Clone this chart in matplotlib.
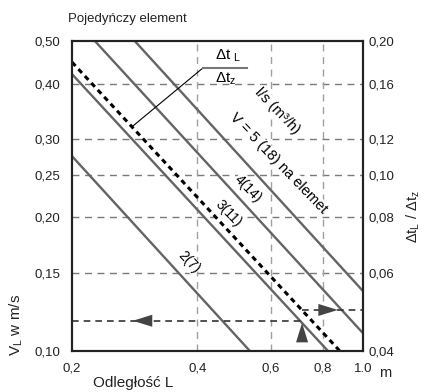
import numpy as np
import matplotlib
matplotlib.use('Agg')
import matplotlib.pyplot as plt
from matplotlib.ticker import FixedLocator, NullLocator, FixedFormatter

plt.rcParams['font.family'] = ['Liberation Sans', 'DejaVu Sans']
plt.rcParams['mathtext.fontset'] = 'custom'
plt.rcParams['mathtext.rm'] = 'Liberation Sans'
plt.rcParams['mathtext.it'] = 'Liberation Sans:italic'

# osie
x_ticks = [0.2, 0.4, 0.6, 0.8, 1.0]
x_labels = ['0,2', '0,4', '0,6', '0,8', '1.0']
y_ticks = [0.10, 0.15, 0.20, 0.25, 0.30, 0.40, 0.50]
y_labels = ['0,10', '0,15', '0,20', '0,25', '0,30', '0,40', '0,50']
y2_ticks = [0.04, 0.06, 0.08, 0.10, 0.12, 0.16, 0.20]
y2_labels = ['0,04', '0,06', '0,08', '0,10', '0,12', '0,16', '0,20']
grid_h = [0.15, 0.20, 0.25, 0.30, 0.40]
grid_v = [0.4, 0.6, 0.8]

# linie wydatku (L, V) - punkty koncowe
line_names = ['2(7)', '3(11)', '4(14)', '5(18)']
line_L = [[0.2, 0.535], [0.2, 0.824], [0.227, 1.0], [0.283, 1.0]]
line_V = [[0.275, 0.10], [0.421, 0.10], [0.50, 0.1097], [0.50, 0.1365]]

# linia kropkowana dt_L/dt_z
dot_L = [0.2, 0.88]
dot_V = [0.448, 0.10]

# przyklad odczytu
ex_L = 0.714
ex_V = 0.117      # predkosc V_L
ex_dt = 0.0495    # dt_L / dt_z (prawa os)

fig = plt.figure(figsize=(4.29, 3.92), dpi=100)
ax = fig.add_axes([0.1678, 0.1046, 0.6783, 0.7908])
ax.set_xscale('log')
ax.set_yscale('log')
ax.set_xlim(0.2, 1.0)
ax.set_ylim(0.1, 0.5)

for g in grid_h:
    ax.axhline(g, color='#7a7a7a', lw=1.0, dashes=(5, 4), zorder=1)
for g in grid_v:
    ax.axvline(g, color='#a0a0a0', lw=1.0, dashes=(5, 4), zorder=1)

for L, V in zip(line_L, line_V):
    ax.plot(L, V, color='#646464', lw=1.7, solid_capstyle='butt', zorder=3)
ax.plot(dot_L, dot_V, color='black', lw=2.2, dashes=(1.7, 1.4), zorder=4)

# linie odczytu
ax.plot([0.2, ex_L], [ex_V, ex_V], color='#333333', lw=1.2, dashes=(4, 3), zorder=5)
ax.plot([ex_L, 1.0], [ex_dt / 0.4, ex_dt / 0.4], color='#333333', lw=1.2, dashes=(4, 3), zorder=5)
arr = dict(arrowstyle='-|>,head_length=2.0,head_width=0.62', fc='#444444', ec='#444444',
           lw=0, mutation_scale=7, shrinkA=0, shrinkB=0)
ax.annotate('', xy=(0.280, ex_V), xytext=(0.313, ex_V), arrowprops=arr, zorder=6)
ax.annotate('', xy=(0.87, ex_dt / 0.4), xytext=(0.776, ex_dt / 0.4), arrowprops=arr, zorder=6)
ax.annotate('', xy=(ex_L, 0.1157), xytext=(ex_L, 0.1021), arrowprops=arr, zorder=6)

# opis linii
box = dict(fc='white', ec='none', pad=0.3)
ax.text(0.704, 0.774, 'l/s (m³/h)', transform=ax.transAxes, rotation=-46, fontsize=10.5,
        ha='center', va='center', rotation_mode='anchor', bbox=box, zorder=7)
ax.text(0.708, 0.606, 'V = 5 (18) na elemet', transform=ax.transAxes, rotation=-46, fontsize=10.5,
        ha='center', va='center', rotation_mode='anchor', bbox=box, zorder=7)
ax.text(0.605, 0.523, line_names[2], transform=ax.transAxes, rotation=-46, fontsize=10,
        ha='center', va='center', rotation_mode='anchor', bbox=box, zorder=7)
ax.text(0.536, 0.445, line_names[1], transform=ax.transAxes, rotation=-46, fontsize=10,
        ha='center', va='center', rotation_mode='anchor', bbox=box, zorder=7)
ax.text(0.402, 0.287, line_names[0], transform=ax.transAxes, rotation=-46, fontsize=10,
        ha='center', va='center', rotation_mode='anchor', bbox=box, zorder=7)

# odnosnik dt_L / dt_z
ax.plot([0.2096, 0.450], [0.726, 0.913], transform=ax.transAxes, color='black', lw=0.8, zorder=6)
ax.plot([0.450, 0.601], [0.913, 0.913], transform=ax.transAxes, color='#777777', lw=1.5, zorder=6)
ax.text(0.49, 0.925, 'Δt $_{\\rm L}$', transform=ax.transAxes, fontsize=11, ha='left', va='bottom', zorder=7)
ax.text(0.49, 0.905, 'Δt$_{\\rm z}$', transform=ax.transAxes, fontsize=11, ha='left', va='top', zorder=7)

ax.xaxis.set_major_locator(FixedLocator(x_ticks))
ax.xaxis.set_major_formatter(FixedFormatter(x_labels))
ax.xaxis.set_minor_locator(NullLocator())
ax.yaxis.set_major_locator(FixedLocator(y_ticks))
ax.yaxis.set_major_formatter(FixedFormatter(y_labels))
ax.yaxis.set_minor_locator(NullLocator())
ax.tick_params(length=0, labelsize=9.5, colors='#222222')
ax.tick_params(axis='y', pad=8.5)
ax.tick_params(axis='x', pad=8.5)

ax2 = ax.twinx()
ax2.set_yscale('log')
ax2.set_ylim(0.04, 0.20)
ax2.yaxis.set_major_locator(FixedLocator(y2_ticks))
ax2.yaxis.set_major_formatter(FixedFormatter(y2_labels))
ax2.yaxis.set_minor_locator(NullLocator())
ax2.tick_params(length=0, labelsize=9.5, colors='#222222', pad=4)

for a in (ax, ax2):
    for s in a.spines.values():
        s.set_linewidth(1.5)
        s.set_color('#222222')

fig.text(68 / 429, 1 - 19 / 392, 'Pojedyńczy element', fontsize=9.5, ha='left', va='center', color='#222222')
fig.text(133 / 429, 1 - 383 / 392, 'Odległość L', fontsize=11, ha='center', va='center', color='#222222')
fig.text(385 / 429, 1 - 373 / 392, 'm', fontsize=10.5, ha='center', va='center', color='#222222')
fig.text(16 / 429, 1 - 325 / 392, 'V$_{\\rm L}$ w m/s', fontsize=11, rotation=90, ha='center', va='center', color='#222222')
fig.text(413 / 429, 1 - 217 / 392, 'Δt$_{\\rm L}$ / Δt$_{\\rm z}$', fontsize=10.5, rotation=90,
         ha='center', va='center', color='#222222')

fig.savefig('out.png', dpi=100)
